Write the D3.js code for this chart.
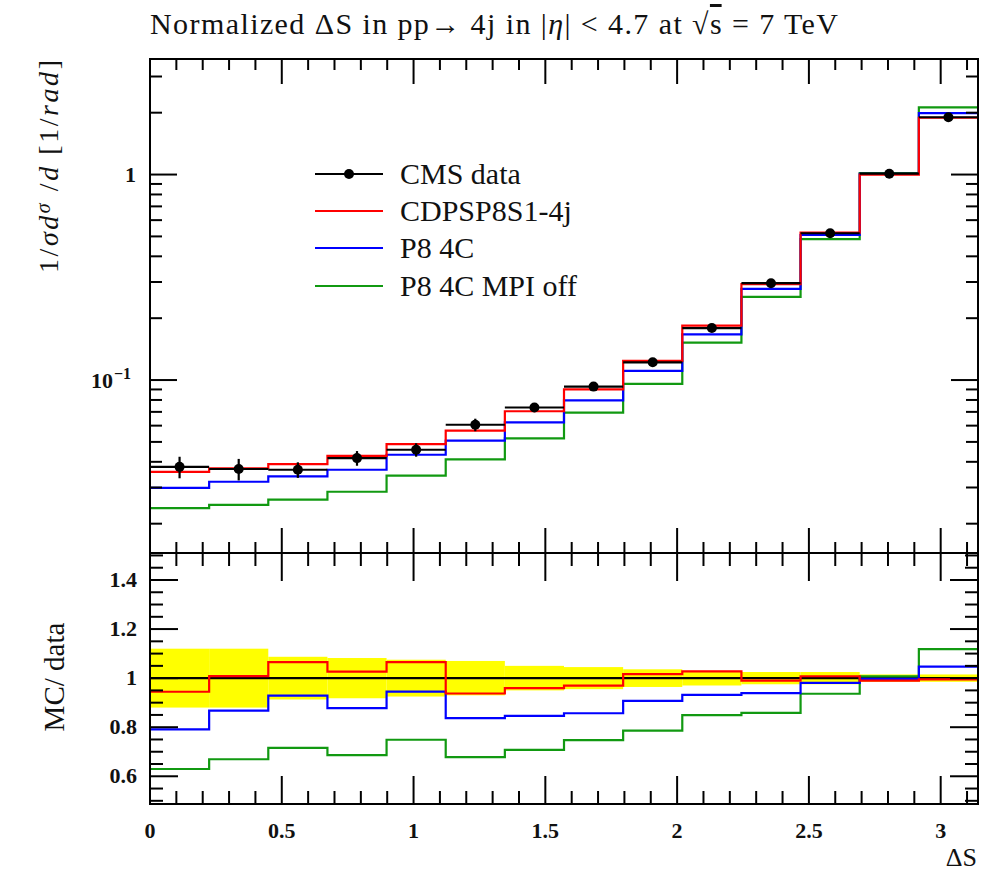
<!DOCTYPE html>
<html>
<head>
<meta charset="utf-8">
<script src="https://cdn.jsdelivr.net/npm/d3@7"></script>
<style>
  html, body { margin: 0; padding: 0; background: #fff; }
  svg text { font-family: "Liberation Serif", "DejaVu Serif", serif; fill: #111; }
</style>
</head>
<body>
<svg id="chart" width="993" height="872"></svg>
<script>
// ΔS distribution, 14 bins over [0, π]
const binEdges = d3.range(15).map(i => i * Math.PI / 14);

const dataValues = [0.0378, 0.0369, 0.0366, 0.0417, 0.0458, 0.0606, 0.0735, 0.0929, 0.122, 0.179, 0.296, 0.518, 1.01, 1.90];
const dataRelErr = [0.12, 0.12, 0.087, 0.082, 0.075, 0.07, 0.05, 0.045, 0.036, 0.03, 0.025, 0.025, 0.015, 0.015];

const cdpsValues  = [0.0357, 0.0372, 0.0390, 0.0428, 0.0488, 0.0568, 0.0705, 0.0901, 0.124, 0.184, 0.293, 0.522, 1.00, 1.89];
const p84cValues  = [0.0299, 0.0320, 0.0340, 0.0366, 0.0433, 0.0507, 0.0622, 0.0796, 0.1107, 0.1668, 0.278, 0.508, 1.007, 1.989];
const mpiOffValues = [0.0238, 0.0247, 0.0262, 0.0286, 0.0343, 0.0411, 0.0520, 0.0694, 0.0959, 0.152, 0.254, 0.485, 1.017, 2.124];

const seriesNames  = ["CDPSP8S1-4j", "P8 4C", "P8 4C MPI off"];
const seriesColors = ["#ff0000", "#0000ff", "#119911"];
const seriesValues = [cdpsValues, p84cValues, mpiOffValues];

const xTickValues = [0, 0.5, 1, 1.5, 2, 2.5, 3];
const xTickLabels = ["0", "0.5", "1", "1.5", "2", "2.5", "3"];
const ratioTickValues = [0.6, 0.8, 1, 1.2, 1.4];
const ratioTickLabels = ["0.6", "0.8", "1", "1.2", "1.4"];

const svg = d3.select("#chart");

// frame geometry
const L = 150, R = 978, T = 59, MID = 553, B = 804;

const x = d3.scaleLinear([0, Math.PI], [L, R]);
const yTop = d3.scaleLog([0.0144, 3.65], [MID, T]);
const yRat = d3.scaleLinear([0.487, 1.51], [B, MID]);

svg.append("clipPath").attr("id", "clipTop")
  .append("rect").attr("x", L).attr("y", T).attr("width", R - L).attr("height", MID - T);
svg.append("clipPath").attr("id", "clipRat")
  .append("rect").attr("x", L).attr("y", MID).attr("width", R - L).attr("height", B - MID);

function stepPoints(vals) {
  const pts = vals.map((v, i) => [binEdges[i], v]);
  pts.push([binEdges[vals.length], vals[vals.length - 1]]);
  return pts;
}

// ---------- top panel ----------
const gTop = svg.append("g").attr("clip-path", "url(#clipTop)");
const lineTop = d3.line().x(d => x(d[0])).y(d => yTop(d[1])).curve(d3.curveStepAfter);

seriesValues.slice().reverse().forEach((vals, k) => {
  const idx = seriesValues.length - 1 - k;
  gTop.append("path").attr("d", lineTop(stepPoints(vals)))
    .attr("fill", "none").attr("stroke", seriesColors[idx]).attr("stroke-width", 2.2);
});

// data: horizontal bin bars, vertical error bars, markers
dataValues.forEach((v, i) => {
  const xc = (binEdges[i] + binEdges[i + 1]) / 2;
  const e = v * dataRelErr[i];
  gTop.append("line")
    .attr("x1", x(binEdges[i])).attr("x2", x(binEdges[i + 1]))
    .attr("y1", yTop(v)).attr("y2", yTop(v))
    .attr("stroke", "#000").attr("stroke-width", 2.2);
  gTop.append("line")
    .attr("x1", x(xc)).attr("x2", x(xc))
    .attr("y1", yTop(v - e)).attr("y2", yTop(v + e))
    .attr("stroke", "#000").attr("stroke-width", 2.2);
  gTop.append("circle").attr("cx", x(xc)).attr("cy", yTop(v)).attr("r", 5).attr("fill", "#000");
});

// ---------- ratio panel ----------
const gRat = svg.append("g").attr("clip-path", "url(#clipRat)");
dataRelErr.forEach((e, i) => {
  gRat.append("rect")
    .attr("x", x(binEdges[i])).attr("width", x(binEdges[i + 1]) - x(binEdges[i]))
    .attr("y", yRat(1 + e)).attr("height", yRat(1 - e) - yRat(1 + e))
    .attr("fill", "#ffff00");
});
gRat.append("line").attr("x1", L).attr("x2", R).attr("y1", yRat(1)).attr("y2", yRat(1))
  .attr("stroke", "#000").attr("stroke-width", 2.2);

const lineRat = d3.line().x(d => x(d[0])).y(d => yRat(d[1])).curve(d3.curveStepAfter);
seriesValues.slice().reverse().forEach((vals, k) => {
  const idx = seriesValues.length - 1 - k;
  const ratio = vals.map((v, i) => v / dataValues[i]);
  gRat.append("path").attr("d", lineRat(stepPoints(ratio)))
    .attr("fill", "none").attr("stroke", seriesColors[idx]).attr("stroke-width", 2.2);
});

// ---------- frames & ticks ----------
const axisG = svg.append("g").attr("stroke", "#000").attr("stroke-width", 2);
axisG.append("rect").attr("x", L).attr("y", T).attr("width", R - L).attr("height", MID - T).attr("fill", "none");
axisG.append("rect").attr("x", L).attr("y", MID).attr("width", R - L).attr("height", B - MID).attr("fill", "none");

function tick(x1, y1, x2, y2) {
  axisG.append("line").attr("x1", x1).attr("y1", y1).attr("x2", x2).attr("y2", y2);
}

// x ticks (every 0.1, major every 0.5)
d3.range(1, 32).map(i => i / 10).forEach(v => {
  const major = Math.abs(v * 2 - Math.round(v * 2)) < 1e-6;
  const px = x(v);
  const lt = major ? 25 : 11;
  tick(px, T, px, T + lt);
  tick(px, MID, px, MID - lt);
  const lb = major ? 28 : 13;
  tick(px, MID, px, MID + lb);
  tick(px, B, px, B - lb);
});

// log ticks on the top panel
[-2, -1, 0].forEach(p => {
  d3.range(1, 10).forEach(m => {
    const v = m * Math.pow(10, p);
    if (v < yTop.domain()[0] || v > yTop.domain()[1]) return;
    const py = yTop(v);
    const len = m === 1 ? 27 : 12;
    tick(L, py, L + len, py);
    tick(R, py, R - len, py);
  });
});

// ratio ticks every 0.05, major every 0.2
d3.range(10, 31).map(i => i * 0.05).forEach(v => {
  if (v < yRat.domain()[0] || v > yRat.domain()[1]) return;
  const major = Math.abs(v * 5 - Math.round(v * 5)) < 1e-6;
  const py = yRat(v);
  const len = major ? 28 : 13;
  tick(L, py, L + len, py);
  tick(R, py, R - len, py);
});

// ---------- labels ----------
const tickFont = 22;
xTickValues.forEach((v, i) => {
  svg.append("text").attr("x", x(v)).attr("y", 838)
    .attr("text-anchor", "middle").attr("font-size", tickFont).attr("font-weight", "bold")
    .text(xTickLabels[i]);
});
ratioTickValues.forEach((v, i) => {
  svg.append("text").attr("x", 137).attr("y", yRat(v) + 7)
    .attr("text-anchor", "end").attr("font-size", tickFont).attr("font-weight", "bold")
    .text(ratioTickLabels[i]);
});
svg.append("text").attr("x", 136).attr("y", yTop(1) + 7)
  .attr("text-anchor", "end").attr("font-size", tickFont).attr("font-weight", "bold").text("1");
svg.append("text").attr("x", 113).attr("y", yTop(0.1) + 8)
  .attr("text-anchor", "end").attr("font-size", tickFont).attr("font-weight", "bold").text("10");
svg.append("text").attr("x", 114).attr("y", yTop(0.1) - 1)
  .attr("font-size", 16).attr("font-weight", "bold").text("−1");

// x-axis title
svg.append("text").attr("x", 977).attr("y", 866).attr("text-anchor", "end")
  .attr("font-size", 26).text("ΔS");

// y-axis titles
const yt = svg.append("text").attr("transform", "translate(58,60) rotate(-90)")
  .attr("x", -213).attr("font-size", 28)
  .attr("textLength", 213).attr("lengthAdjust", "spacing");
yt.append("tspan").text("1/");
yt.append("tspan").attr("font-style", "italic").text("σd");
yt.append("tspan").attr("font-style", "italic").attr("dy", -8).attr("font-size", 20).text("σ");
yt.append("tspan").attr("dy", 8).text(" /");
yt.append("tspan").attr("font-style", "italic").text("d");
yt.append("tspan").text(" [1/");
yt.append("tspan").attr("font-style", "italic").text("rad");
yt.append("tspan").text("]");

svg.append("text").attr("transform", "translate(64,677) rotate(-90)")
  .attr("text-anchor", "middle").attr("font-size", 29).text("MC/ data");

// title
const title = svg.append("text").attr("x", 150).attr("y", 34).attr("font-size", 30)
  .attr("textLength", 688).attr("lengthAdjust", "spacing");
title.append("tspan").text("Normalized ΔS in pp→ 4j in |");
title.append("tspan").attr("font-style", "italic").text("η");
title.append("tspan").text("| < 4.7 at √");
title.append("tspan").attr("style", "text-decoration: overline").text("s");
title.append("tspan").text(" = 7 TeV");

// ---------- legend ----------
const legX1 = 315, legX2 = 383, legTx = 400;
const legRows = [174, 211, 248, 286];
const legFont = 30;
const lg = svg.append("g");
lg.append("line").attr("x1", legX1).attr("x2", legX2).attr("y1", legRows[0]).attr("y2", legRows[0])
  .attr("stroke", "#000").attr("stroke-width", 2);
lg.append("circle").attr("cx", (legX1 + legX2) / 2).attr("cy", legRows[0]).attr("r", 5).attr("fill", "#000");
lg.append("text").attr("x", legTx).attr("y", legRows[0] + 10).attr("font-size", legFont).text("CMS data");
seriesNames.forEach((name, i) => {
  const yy = legRows[i + 1];
  lg.append("line").attr("x1", legX1).attr("x2", legX2).attr("y1", yy).attr("y2", yy)
    .attr("stroke", seriesColors[i]).attr("stroke-width", 2);
  lg.append("text").attr("x", legTx).attr("y", yy + 10).attr("font-size", legFont).text(name);
});
</script>
</body>
</html>
